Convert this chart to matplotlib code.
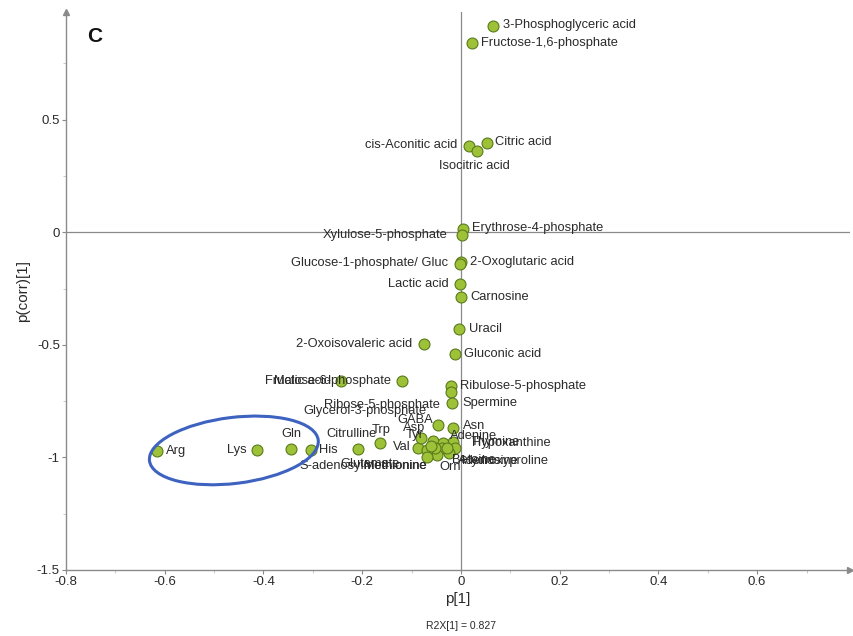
import matplotlib
matplotlib.use("Agg")
import matplotlib.pyplot as plt
import matplotlib.transforms as mtransforms
from matplotlib.patches import Ellipse
from matplotlib.ticker import MultipleLocator

plt.rcParams['font.family'] = ['Liberation Sans', 'DejaVu Sans']

# S-plot loadings: p[1] vs p(corr)[1]
names = [
    "3-Phosphoglyceric acid", "Fructose-1,6-phosphate", "cis-Aconitic acid",
    "Isocitric acid", "Citric acid", "Erythrose-4-phosphate",
    "Xylulose-5-phosphate", "2-Oxoglutaric acid", "Glucose-1-phosphate/ Gluc",
    "Lactic acid", "Carnosine", "Uracil", "2-Oxoisovaleric acid",
    "Gluconic acid", "Malic acid", "Fructose-6-phosphate",
    "Ribulose-5-phosphate", "Ribose-5-phosphate", "Spermine", "GABA", "Asn",
    "Trp", "Asp", "Tyr", "Adenine", "Thymine", "Hypoxanthine", "Orn",
    "Betaine", "Adenosine", "Hydroxyproline", "Glycerol-3-phosphate",
    "Citrulline", "S-adenosylmethionine", "Methionine", "Glutamate", "Val",
    "Gln", "His", "Lys", "Arg",
]
p1 = [
    0.065, 0.022, 0.016, 0.032, 0.053, 0.004,
    0.002, 0.000, -0.002,
    -0.002, 0.000, -0.004, -0.075,
    -0.012, -0.243, -0.120,
    -0.020, -0.020, -0.018, -0.047, -0.016,
    -0.087, -0.081, -0.057, -0.016, -0.036, -0.012, -0.024,
    -0.038, -0.049, -0.028, -0.053,
    -0.209, -0.069, -0.069, -0.061, -0.164,
    -0.344, -0.304, -0.413, -0.616,
]
pcorr = [
    0.916, 0.840, 0.382, 0.360, 0.396, 0.013,
    -0.013, -0.133, -0.142,
    -0.231, -0.289, -0.431, -0.498,
    -0.542, -0.662, -0.662,
    -0.684, -0.711, -0.760, -0.858, -0.871,
    -0.960, -0.916, -0.929, -0.933, -0.938, -0.956, -0.982,
    -0.960, -0.991, -0.960, -0.960,
    -0.964, -0.969, -0.996, -0.951, -0.938,
    -0.964, -0.969, -0.969, -0.973,
]
r2x = 0.827

# label placement: (dx px, dy px, horizontal alignment)
label_pos = {
    "3-Phosphoglyceric acid": (10, 1, "left"),
    "Fructose-1,6-phosphate": (9, 0, "left"),
    "cis-Aconitic acid": (-12, 1, "right"),
    "Isocitric acid": (-2, -15, "center"),
    "Citric acid": (8, 1, "left"),
    "Erythrose-4-phosphate": (9, 1, "left"),
    "Xylulose-5-phosphate": (-14, 0, "right"),
    "2-Oxoglutaric acid": (9, 0, "left"),
    "Glucose-1-phosphate/ Gluc": (-12, 1, "right"),
    "Lactic acid": (-11, 0, "right"),
    "Carnosine": (9, 0, "left"),
    "Uracil": (10, 0, "left"),
    "2-Oxoisovaleric acid": (-12, 0, "right"),
    "Gluconic acid": (9, 0, "left"),
    "Malic acid": (-10, 0, "right"),
    "Fructose-6-phosphate": (-11, 0, "right"),
    "Ribulose-5-phosphate": (9, 0, "left"),
    "Ribose-5-phosphate": (-11, -13, "right"),
    "Spermine": (10, 0, "left"),
    "GABA": (-5, 5, "right"),
    "Asn": (10, 2, "left"),
    "Trp": (-37, 18, "center"),
    "Asp": (-7, 10, "center"),
    "Tyr": (-18, 6, "center"),
    "Adenine": (-3, 6, "left"),
    "Thymine": (27, 1, "left"),
    "Hypoxanthine": (17, 5, "left"),
    "Orn": (1, -14, "center"),
    "Betaine": (10, -12, "left"),
    "Adenosine": (21, -6, "left"),
    "Hydroxyproline": (15, -13, "left"),
    "Glycerol-3-phosphate": (-8, 37, "right"),
    "Citrulline": (-6, 15, "center"),
    "S-adenosylmethionine": (0, -16, "right"),
    "Methionine": (0, -9, "right"),
    "Glutamate": (-31, -18, "right"),
    "Val": (13, -4, "left"),
    "Gln": (0, 15, "center"),
    "His": (8, 0, "left"),
    "Lys": (-10, 0, "right"),
    "Arg": (9, 0, "left"),
}

axis_gray = "#8a8a8a"
text_col = "#2a2a2a"

fig = plt.figure(figsize=(8.54, 6.36), dpi=100)
ax = fig.add_axes([66 / 854, 66 / 636, 784 / 854, 558 / 636])
ax.set_xlim(-0.8, 0.788)
ax.set_ylim(-1.5, 0.978)

for side in ("top", "right"):
    ax.spines[side].set_visible(False)
for side in ("left", "bottom"):
    ax.spines[side].set_color(axis_gray)
    ax.spines[side].set_linewidth(1.0)

# arrow heads on the axes
ax.plot(0, 1, marker="^", color=axis_gray, ms=5, transform=ax.transAxes,
        clip_on=False)
ax.plot(1, 0, marker=">", color=axis_gray, ms=5, transform=ax.transAxes,
        clip_on=False)

ax.axhline(0, color=axis_gray, lw=0.9, zorder=1)
ax.axvline(0, color=axis_gray, lw=0.9, zorder=1)

ax.xaxis.set_minor_locator(MultipleLocator(0.1))
ax.yaxis.set_minor_locator(MultipleLocator(0.25))
ax.set_xticks([-0.8, -0.6, -0.4, -0.2, 0, 0.2, 0.4, 0.6])
ax.set_xticklabels(["-0.8", "-0.6", "-0.4", "-0.2", "0", "0.2", "0.4", "0.6"])
ax.set_yticks([-1.5, -1, -0.5, 0, 0.5])
ax.set_yticklabels(["-1.5", "-1", "-0.5", "0", "0.5"])
ax.tick_params(which="major", length=3, width=0.8, color=axis_gray,
               labelsize=9.5, labelcolor=text_col, pad=1.5)
ax.tick_params(which="minor", length=2, width=0.6, color="#c0c0c0")

ax.set_xlabel("p[1]", fontsize=11, color=text_col, labelpad=3)
ax.set_ylabel("p(corr)[1]", fontsize=11, color=text_col, labelpad=5)
fig.text(461 / 854, 1 - 626 / 636, f"R2X[1] = {r2x}", fontsize=7.5,
         color=text_col, ha="center", va="center")
fig.text(95 / 854, 1 - 37 / 636, "C", fontsize=15, fontweight="bold",
         color="#111111", ha="center", va="center")

ax.scatter(p1, pcorr, s=62, c="#9dc238", edgecolors="#5a7a1c",
           linewidths=0.8, zorder=3)

for name, x, y in zip(names, p1, pcorr):
    dx, dy, ha = label_pos[name]
    ax.annotate(name, (x, y), xytext=(dx, dy), textcoords="offset pixels",
                ha=ha, va="center", fontsize=9.3, color=text_col, zorder=4)

# highlight the basic amino acids
trans = fig.dpi_scale_trans + mtransforms.ScaledTranslation(-0.46, -0.969,
                                                             ax.transData)
ax.add_patch(Ellipse((0, 0), 1.70, 0.66, angle=7, transform=trans,
                     fill=False, edgecolor="#3e62c0", lw=2.2, zorder=5))

fig.savefig("out.png", dpi=100)
